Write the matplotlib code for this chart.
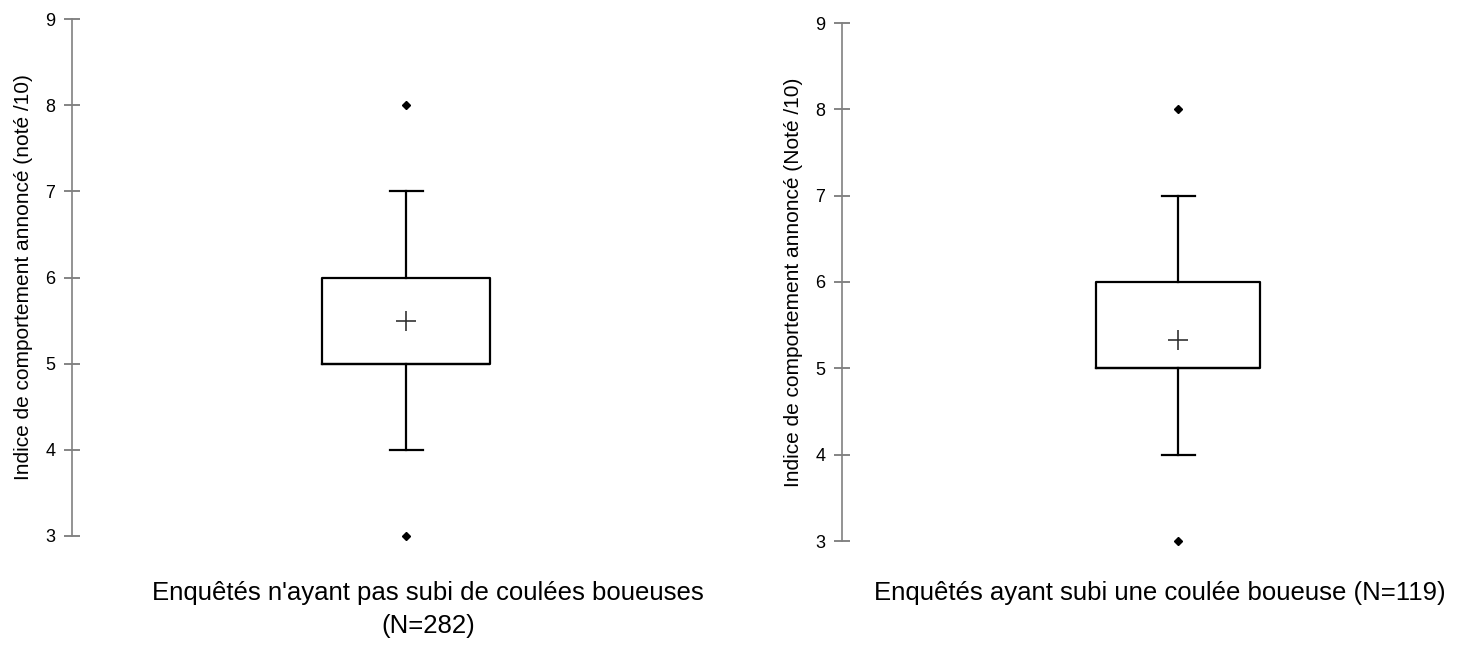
import matplotlib.pyplot as plt

plt.rcParams['font.family'] = ['Liberation Sans', 'DejaVu Sans']

# box statistics
groups = ["Enquêtés n'ayant pas subi de coulées boueuses\n(N=282)",
          "Enquêtés ayant subi une coulée boueuse (N=119)"]
ylabels = ["Indice de comportement annoncé (noté /10)",
           "Indice de comportement annoncé (Noté /10)"]
q1 = [5, 5]
q3 = [6, 6]
med = [5, 5]
whislo = [4, 4]
whishi = [7, 7]
means = [5.49, 5.33]
fliers = [[3, 8], [3, 8]]
yticks = [3, 4, 5, 6, 7, 8, 9]

W, H = 1466, 646
fig = plt.figure(figsize=(W / 100, H / 100), dpi=100)

# panel geometry in pixels: axis x, right edge, top, bottom, box centre, box half width, label centre
panels = [(72, 740, 19, 536, 406, 84, 428),
          (842, 1466, 23, 541, 1178, 82, 1160)]

for i, (x0, x1, top, bot, cx, half, lab) in enumerate(panels):
    ax = fig.add_axes([x0 / W, 1 - bot / H, (x1 - x0) / W, (bot - top) / H])
    span = x1 - x0
    centre = cx - x0
    xmax = span / centre
    stats = [dict(q1=q1[i], q3=q3[i], med=med[i], whislo=whislo[i],
                  whishi=whishi[i], mean=means[i], fliers=fliers[i])]
    ax.bxp(stats, positions=[1], widths=[2 * half / centre],
           showmeans=True, patch_artist=False,
           boxprops=dict(color='black', linewidth=1.6),
           medianprops=dict(color='black', linewidth=1.6),
           whiskerprops=dict(color='black', linewidth=1.6),
           capprops=dict(color='black', linewidth=1.6),
           capwidths=[33 / centre],
           meanprops=dict(marker='+', markersize=15, markeredgecolor='#333333',
                          markeredgewidth=1.2),
           flierprops=dict(marker='D', markersize=4.5, markerfacecolor='black',
                           markeredgecolor='black'))
    for art in ax.lines:
        art.set_clip_on(False)
    ax.set_xlim(0, xmax)
    ax.set_ylim(3, 9)
    ax.set_yticks(yticks)
    for s in ['top', 'right', 'bottom']:
        ax.spines[s].set_visible(False)
    ax.spines['left'].set_color('#808080')
    ax.spines['left'].set_linewidth(1.2)
    ax.tick_params(axis='y', direction='inout', length=12, width=1.2,
                   color='#707070', labelsize=13, pad=6)
    ax.set_xticks([])
    ax.set_ylabel(ylabels[i], fontsize=15, labelpad=9)
    fig.text(lab / W, 1 - 581 / H, groups[i], fontsize=18.5, ha='center',
             va='top', linespacing=1.5, multialignment='center')

fig.savefig('out.png', dpi=100)
